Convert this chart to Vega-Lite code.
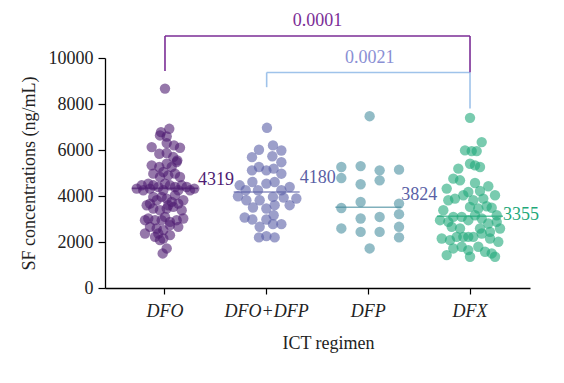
{
  "$schema": "https://vega.github.io/schema/vega-lite/v6.json",
  "width": 425,
  "height": 230,
  "autosize": {"type": "none"},
  "padding": {"left": 105, "top": 58, "right": 34, "bottom": 95},
  "config": {
    "view": {"stroke": null},
    "font": "Liberation Serif",
    "axis": {"grid": false, "domainColor": "#000", "domainWidth": 1.3, "tickColor": "#000", "tickWidth": 1.2, "labelColor": "#222", "titleColor": "#222", "labelFont": "Liberation Serif", "titleFont": "Liberation Serif", "titleFontWeight": "normal"}
  },
  "datasets": {
    "pts": [
      {"g":"DFO","j":4.3,"v":6921},{"g":"DFO","j":-4,"v":6777},{"g":"DFO","j":1.7,"v":6589},{"g":"DFO","j":-5,"v":6633},{"g":"DFO","j":-13.3,"v":6127},{"g":"DFO","j":1.7,"v":6300},{"g":"DFO","j":9,"v":6199},{"g":"DFO","j":15,"v":6098},{"g":"DFO","j":-5.7,"v":5838},{"g":"DFO","j":1.7,"v":5867},{"g":"DFO","j":8.3,"v":5693},{"g":"DFO","j":12.3,"v":5549},{"g":"DFO","j":-13.3,"v":5332},{"g":"DFO","j":-5.7,"v":5260},{"g":"DFO","j":1.7,"v":5404},{"g":"DFO","j":6.7,"v":5260},{"g":"DFO","j":11.7,"v":5477},{"g":"DFO","j":-1.7,"v":5043},{"g":"DFO","j":-11.7,"v":4971},{"g":"DFO","j":-5,"v":4826},{"g":"DFO","j":3.3,"v":4899},{"g":"DFO","j":10,"v":4971},{"g":"DFO","j":15,"v":4826},{"g":"DFO","j":-28.3,"v":4321},{"g":"DFO","j":-23.3,"v":4465},{"g":"DFO","j":-16.7,"v":4537},{"g":"DFO","j":-11.7,"v":4465},{"g":"DFO","j":-6.7,"v":4393},{"g":"DFO","j":0,"v":4537},{"g":"DFO","j":5,"v":4465},{"g":"DFO","j":10,"v":4393},{"g":"DFO","j":16.7,"v":4465},{"g":"DFO","j":21.7,"v":4393},{"g":"DFO","j":29.3,"v":4321},{"g":"DFO","j":-21.7,"v":4248},{"g":"DFO","j":-15,"v":4321},{"g":"DFO","j":-1.7,"v":4248},{"g":"DFO","j":13.3,"v":4248},{"g":"DFO","j":25,"v":4248},{"g":"DFO","j":-15,"v":3670},{"g":"DFO","j":-8.3,"v":3815},{"g":"DFO","j":-3.3,"v":3959},{"g":"DFO","j":1.7,"v":3887},{"g":"DFO","j":6.7,"v":3743},{"g":"DFO","j":13.3,"v":3670},{"g":"DFO","j":18.3,"v":3815},{"g":"DFO","j":-11.7,"v":3959},{"g":"DFO","j":3.3,"v":3598},{"g":"DFO","j":10,"v":4032},{"g":"DFO","j":-11.7,"v":3454},{"g":"DFO","j":-5,"v":3381},{"g":"DFO","j":1.7,"v":3454},{"g":"DFO","j":8.3,"v":3526},{"g":"DFO","j":16.7,"v":3381},{"g":"DFO","j":-16.7,"v":3020},{"g":"DFO","j":-10,"v":2948},{"g":"DFO","j":-3.3,"v":2948},{"g":"DFO","j":5,"v":2876},{"g":"DFO","j":11.7,"v":2948},{"g":"DFO","j":18.3,"v":3020},{"g":"DFO","j":0,"v":3092},{"g":"DFO","j":-15,"v":2659},{"g":"DFO","j":-8.3,"v":2587},{"g":"DFO","j":-1.7,"v":2514},{"g":"DFO","j":5,"v":2731},{"g":"DFO","j":13.3,"v":2659},{"g":"DFO","j":-6.7,"v":2370},{"g":"DFO","j":-10,"v":2225},{"g":"DFO","j":-1.7,"v":2153},{"g":"DFO","j":5,"v":2298},{"g":"DFO","j":-5,"v":2081},{"g":"DFO","j":1.7,"v":1720},{"g":"DFO","j":-2.3,"v":1503},{"g":"DFO","j":0,"v":8670},{"g":"DFO","j":-20,"v":2948},{"g":"DFO","j":-18.3,"v":3598},{"g":"DFO","j":-20,"v":2370},
      {"g":"DFO+DFP","j":0.3,"v":6965},{"g":"DFO+DFP","j":-7.7,"v":6010},{"g":"DFO+DFP","j":6.3,"v":6200},{"g":"DFO+DFP","j":14.7,"v":5980},{"g":"DFO+DFP","j":-14.7,"v":5690},{"g":"DFO+DFP","j":5.7,"v":5730},{"g":"DFO+DFP","j":14.7,"v":5470},{"g":"DFO+DFP","j":-14.7,"v":5115},{"g":"DFO+DFP","j":-7.7,"v":5260},{"g":"DFO+DFP","j":-0.3,"v":5115},{"g":"DFO+DFP","j":7,"v":5190},{"g":"DFO+DFP","j":14.7,"v":4970},{"g":"DFO+DFP","j":-27,"v":4465},{"g":"DFO+DFP","j":-14.3,"v":4610},{"g":"DFO+DFP","j":-0.3,"v":4540},{"g":"DFO+DFP","j":8,"v":4610},{"g":"DFO+DFP","j":23,"v":4390},{"g":"DFO+DFP","j":-21,"v":4250},{"g":"DFO+DFP","j":-8.7,"v":4250},{"g":"DFO+DFP","j":14.7,"v":4250},{"g":"DFO+DFP","j":-28.7,"v":3990},{"g":"DFO+DFP","j":-20.3,"v":3815},{"g":"DFO+DFP","j":-7,"v":3815},{"g":"DFO+DFP","j":6.3,"v":3960},{"g":"DFO+DFP","j":17,"v":3930},{"g":"DFO+DFP","j":29.7,"v":3890},{"g":"DFO+DFP","j":-13.7,"v":3500},{"g":"DFO+DFP","j":-0.3,"v":3455},{"g":"DFO+DFP","j":8,"v":3600},{"g":"DFO+DFP","j":23,"v":3600},{"g":"DFO+DFP","j":-22,"v":3065},{"g":"DFO+DFP","j":-14.3,"v":2980},{"g":"DFO+DFP","j":-0.3,"v":2980},{"g":"DFO+DFP","j":7,"v":3165},{"g":"DFO+DFP","j":-7,"v":2660},{"g":"DFO+DFP","j":6.3,"v":2775},{"g":"DFO+DFP","j":14.7,"v":2775},{"g":"DFO+DFP","j":-7.7,"v":2200},{"g":"DFO+DFP","j":-0.3,"v":2255},{"g":"DFO+DFP","j":8,"v":2200},
      {"g":"DFP","j":1.3,"v":7470},{"g":"DFP","j":-27,"v":5260},{"g":"DFP","j":-27,"v":4780},{"g":"DFP","j":-7.7,"v":5300},{"g":"DFP","j":-7.7,"v":4510},{"g":"DFP","j":11.3,"v":5115},{"g":"DFP","j":11.3,"v":4680},{"g":"DFP","j":30.7,"v":5145},{"g":"DFP","j":-27,"v":3480},{"g":"DFP","j":-7.7,"v":3740},{"g":"DFP","j":30.7,"v":3670},{"g":"DFP","j":30.7,"v":3210},{"g":"DFP","j":-7.7,"v":3020},{"g":"DFP","j":11.3,"v":3090},{"g":"DFP","j":30.7,"v":2660},{"g":"DFP","j":-27,"v":2590},{"g":"DFP","j":-7.7,"v":2440},{"g":"DFP","j":11.3,"v":2440},{"g":"DFP","j":30.7,"v":2200},{"g":"DFP","j":1.3,"v":1720},
      {"g":"DFX","j":0,"v":7398},{"g":"DFX","j":11.7,"v":6344},{"g":"DFX","j":-5,"v":5982},{"g":"DFX","j":1.7,"v":5953},{"g":"DFX","j":6.7,"v":5953},{"g":"DFX","j":0,"v":5404},{"g":"DFX","j":10,"v":5260},{"g":"DFX","j":5,"v":5332},{"g":"DFX","j":-11.7,"v":5188},{"g":"DFX","j":-16.7,"v":4754},{"g":"DFX","j":-10,"v":4682},{"g":"DFX","j":5,"v":4566},{"g":"DFX","j":18.3,"v":4422},{"g":"DFX","j":-23.3,"v":4321},{"g":"DFX","j":-1.7,"v":4176},{"g":"DFX","j":10,"v":4219},{"g":"DFX","j":25,"v":4032},{"g":"DFX","j":-21.7,"v":3815},{"g":"DFX","j":-15,"v":3887},{"g":"DFX","j":-6.7,"v":4032},{"g":"DFX","j":3.3,"v":3815},{"g":"DFX","j":13.3,"v":3887},{"g":"DFX","j":0,"v":3526},{"g":"DFX","j":8.3,"v":3454},{"g":"DFX","j":16.7,"v":3555},{"g":"DFX","j":21.7,"v":3490},{"g":"DFX","j":-30,"v":2948},{"g":"DFX","j":-21.7,"v":2876},{"g":"DFX","j":-16.7,"v":3092},{"g":"DFX","j":-8.3,"v":3092},{"g":"DFX","j":-1.7,"v":2948},{"g":"DFX","j":5,"v":3165},{"g":"DFX","j":11.7,"v":3020},{"g":"DFX","j":18.3,"v":2803},{"g":"DFX","j":26.7,"v":2876},{"g":"DFX","j":-18.3,"v":2659},{"g":"DFX","j":-10,"v":2587},{"g":"DFX","j":10,"v":2587},{"g":"DFX","j":20,"v":2442},{"g":"DFX","j":30,"v":2587},{"g":"DFX","j":-28.3,"v":2153},{"g":"DFX","j":-20,"v":2081},{"g":"DFX","j":-13.3,"v":2225},{"g":"DFX","j":-6.7,"v":2225},{"g":"DFX","j":-1.7,"v":2225},{"g":"DFX","j":3.3,"v":2225},{"g":"DFX","j":11.7,"v":2370},{"g":"DFX","j":20,"v":2153},{"g":"DFX","j":28.3,"v":2008},{"g":"DFX","j":-16.7,"v":1720},{"g":"DFX","j":-8.3,"v":1792},{"g":"DFX","j":-1.7,"v":1647},{"g":"DFX","j":8.3,"v":1792},{"g":"DFX","j":15,"v":1575},{"g":"DFX","j":21.7,"v":1503},{"g":"DFX","j":-23.3,"v":1431},{"g":"DFX","j":0,"v":1358},{"g":"DFX","j":25,"v":1358},{"g":"DFX","j":-26.7,"v":3381},{"g":"DFX","j":26.7,"v":3165}
    ],
    "med": [
      {"g":"DFO","v":4330,"ly":4680,"label":"4319"},
      {"g":"DFO+DFP","v":4175,"ly":4770,"label":"4180"},
      {"g":"DFP","v":3510,"ly":4030,"label":"3824"},
      {"g":"DFX","v":3120,"ly":3160,"label":"3355"}
    ],
    "hbr": [
      {"b":"p1","g":"DFO","g2":"DFX","v":10957},
      {"b":"p2","g":"DFO+DFP","g2":"DFX","v":9370}
    ],
    "vbr": [
      {"b":"p1","g":"DFO","v":10957,"v2":9430},
      {"b":"p1","g":"DFX","v":10957,"v2":9370},
      {"b":"p2","g":"DFO+DFP","v":9370,"v2":8730},
      {"b":"p2","g":"DFX","v":9370,"v2":7800}
    ],
    "ptxt": [
      {"b":"p1","g":"DFO+DFP","j":50.8,"v":11620,"label":"0.0001"},
      {"b":"p2","g":"DFP","j":1.5,"v":10000,"label":"0.0021"}
    ]
  },
  "layer": [
    {
      "data": {"name": "pts"},
      "mark": {"type": "circle", "size": 108, "opacity": 0.6, "stroke": null},
      "encoding": {
        "x": {"field": "g", "type": "nominal", "sort": ["DFO","DFO+DFP","DFP","DFX"],
              "scale": {"type": "band", "domain": ["DFO","DFO+DFP","DFP","DFX"], "paddingInner": 0, "paddingOuter": 0.09},
              "axis": {"title": "ICT regimen", "labelAngle": 0, "labelFontStyle": "italic", "labelFontSize": 18, "tickSize": 6, "labelPadding": 8, "titleFontSize": 18, "titlePadding": 14, "titleX": 223}},
        "xOffset": {"field": "j", "type": "quantitative", "scale": {"domain": [-50.84, 50.84]}},
        "y": {"field": "v", "type": "quantitative",
              "scale": {"domain": [0, 10000], "nice": false, "zero": true},
              "axis": {"title": "SF concentrations (ng/mL)", "values": [0,1000,2000,3000,4000,5000,6000,7000,8000,9000,10000], "format": "d",
                       "labelExpr": "datum.value % 2000 === 0 ? datum.label : ''",
                       "tickSize": {"condition": {"test": "datum.value % 2000 === 0", "value": 7}, "value": 4},
                       "labelFontSize": 18, "labelPadding": 5, "titleFontSize": 18, "titlePadding": 10}},
        "color": {"field": "g", "type": "nominal", "legend": null,
                  "scale": {"domain": ["DFO","DFO+DFP","DFP","DFX"], "range": ["#4e1c72","#5a5fa6","#4a8fa0","#1fa97a"]}}
      }
    },
    {
      "data": {"name": "med"},
      "mark": {"type": "tick", "size": 66, "thickness": 1.6},
      "encoding": {
        "x": {"field": "g", "type": "nominal"},
        "y": {"field": "v", "type": "quantitative"},
        "color": {"field": "g", "type": "nominal", "legend": null,
                  "scale": {"domain": ["DFO","DFO+DFP","DFP","DFX"], "range": ["#4e1c72","#5a5fa6","#4a8fa0","#1fa97a"]}}
      }
    },
    {
      "data": {"name": "med"},
      "mark": {"type": "text", "align": "left", "baseline": "middle", "dx": 33, "fontSize": 18, "font": "Liberation Serif"},
      "encoding": {
        "x": {"field": "g", "type": "nominal"},
        "y": {"field": "ly", "type": "quantitative"},
        "text": {"field": "label"},
        "color": {"field": "g", "type": "nominal", "legend": null,
                  "scale": {"domain": ["DFO","DFO+DFP","DFP","DFX"], "range": ["#4e1c72","#5a5fa6","#5a5fa6","#1fa97a"]}}
      }
    },
    {
      "data": {"name": "hbr"},
      "mark": {"type": "rule", "strokeWidth": 1.6},
      "encoding": {
        "x": {"field": "g", "type": "nominal", "bandPosition": 0.5},
        "x2": {"field": "g2"},
        "y": {"field": "v", "type": "quantitative"},
        "color": {"field": "b", "type": "nominal", "legend": null, "scale": {"domain": ["p1","p2"], "range": ["#7b2d96","#9fc3ea"]}}
      }
    },
    {
      "data": {"name": "vbr"},
      "mark": {"type": "rule", "strokeWidth": 1.6},
      "encoding": {
        "x": {"field": "g", "type": "nominal", "bandPosition": 0.5},
        "y": {"field": "v", "type": "quantitative"},
        "y2": {"field": "v2"},
        "color": {"field": "b", "type": "nominal", "legend": null, "scale": {"domain": ["p1","p2"], "range": ["#7b2d96","#9fc3ea"]}}
      }
    },
    {
      "data": {"name": "ptxt"},
      "mark": {"type": "text", "align": "center", "baseline": "middle", "fontSize": 18, "font": "Liberation Serif"},
      "encoding": {
        "x": {"field": "g", "type": "nominal"},
        "xOffset": {"field": "j", "type": "quantitative"},
        "y": {"field": "v", "type": "quantitative"},
        "text": {"field": "label"},
        "color": {"field": "b", "type": "nominal", "legend": null, "scale": {"domain": ["p1","p2"], "range": ["#7b2d96","#8a8fd4"]}}
      }
    }
  ],
  "resolve": {"scale": {"color": "independent"}}
}
